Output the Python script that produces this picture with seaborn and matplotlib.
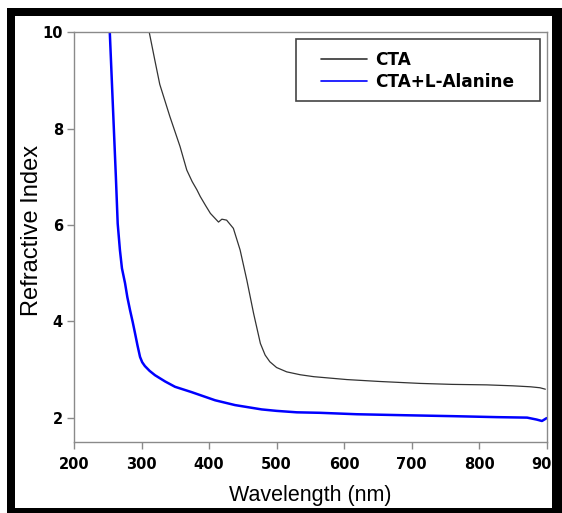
import matplotlib
matplotlib.use("Agg")
import matplotlib.pyplot as plt
from matplotlib.patches import Rectangle
import seaborn as sns
import pandas as pd

# ---- data ----
cta_wl = [310, 320, 327, 342, 357, 367, 375, 382, 387, 395, 402, 410, 414, 419,
          426, 436, 446, 456, 466, 476, 483, 490, 500, 515, 535, 555, 604, 653,
          713, 760, 811, 850, 876, 890, 898]
cta_n = [10.1, 9.4, 8.92, 8.25, 7.63, 7.14, 6.9, 6.73, 6.59, 6.4, 6.24, 6.12, 6.06, 6.12,
         6.10, 5.93, 5.48, 4.85, 4.16, 3.54, 3.3, 3.16, 3.04, 2.95, 2.89, 2.85, 2.79, 2.75,
         2.71, 2.69, 2.68, 2.66, 2.64, 2.62, 2.59]

ala_wl = [250, 253, 256, 259, 262, 264.7, 268, 271, 275.6, 279, 283, 287, 290.4, 294,
          297.8, 301, 305, 312, 320, 335, 349.6, 374, 409, 438.5, 478, 500, 530, 564,
          619, 688, 762, 826, 871, 885, 893, 900]
ala_n = [10.6, 10.0, 9.0, 8.0, 7.0, 6.03, 5.48, 5.1, 4.79, 4.5, 4.23, 3.98, 3.75, 3.5,
         3.26, 3.15, 3.07, 2.97, 2.88, 2.75, 2.64, 2.53, 2.36, 2.26, 2.17, 2.14, 2.11, 2.10,
         2.07, 2.05, 2.03, 2.01, 2.0, 1.96, 1.93, 1.99]

series_names = ["CTA", "CTA+L-Alanine"]
x_ticks = [200, 300, 400, 500, 600, 700, 800, 900]
y_ticks = [2, 4, 6, 8, 10]

df = pd.concat([
    pd.DataFrame({"Wavelength": cta_wl, "n": cta_n, "Sample": series_names[0]}),
    pd.DataFrame({"Wavelength": ala_wl, "n": ala_n, "Sample": series_names[1]}),
])

sns.set_style("white")
plt.rcParams["font.family"] = ["Liberation Sans", "DejaVu Sans"]
plt.rcParams["text.color"] = "black"
plt.rcParams["axes.labelcolor"] = "black"

W, H = 562, 513
fig = plt.figure(figsize=(W / 100, H / 100), dpi=100)
ax = fig.add_axes([74 / W, 1 - 441.7 / H, (546.7 - 74) / W, (441.7 - 32.3) / H])

sns.lineplot(data=df, x="Wavelength", y="n", hue="Sample", sort=False,
             palette={series_names[0]: "#333333", series_names[1]: "#0000ff"},
             estimator=None, ax=ax, legend=True)
lines = ax.get_lines()
lines[0].set_linewidth(0.9)
lines[1].set_linewidth(1.8)

ax.set_xlim(200, 900)
ax.set_ylim(1.5, 10)
ax.set_xticks(x_ticks)
ax.set_yticks(y_ticks)
for sp in ax.spines.values():
    sp.set_color("#8a8a8a")
    sp.set_linewidth(1.0)
ax.tick_params(axis="both", direction="out", length=5, width=1, color="#8a8a8a",
               labelcolor="black", left=True, bottom=True, top=False, right=False)
ax.tick_params(axis="x", pad=6)
ax.tick_params(axis="y", pad=3)
for lbl in ax.get_xticklabels() + ax.get_yticklabels():
    lbl.set_fontweight("bold")
    lbl.set_fontsize(10.5)
    lbl.set_family(["DejaVu Sans"])

ax.set_xlabel("Wavelength (nm)", fontsize=15.5, fontfamily=["Liberation Sans"], color="black")
ax.set_ylabel("Refractive Index", fontsize=17, fontfamily=["Liberation Sans"], color="black")
ax.xaxis.set_label_coords(0.5, -0.105)
ax.yaxis.set_label_coords(-0.066, 0.515)

h, l = ax.get_legend_handles_labels()
for hh in h:
    hh.set_linewidth(1.2)
leg = ax.legend(h, l, loc="upper left", bbox_to_anchor=(0.5219, 0.954),
                borderaxespad=0, frameon=False, labelcolor="black",
                prop={"weight": "bold", "size": 12.2, "family": ["DejaVu Sans"]},
                handlelength=2.72, handletextpad=0.47, labelspacing=0.25, borderpad=0)

# legend box (drawn separately to match the reference's padding)
ax.add_artist(Rectangle((296 / W, 1 - 100.7 / H), (540 - 296) / W, (100.7 - 39) / H,
                        transform=fig.transFigure, facecolor="white",
                        edgecolor="#444444", linewidth=1.2, clip_on=False, zorder=4))
leg.set_zorder(5)

# black frame around the picture
def band(x0, y0, x1, y1):
    fig.add_artist(Rectangle((x0 / W, 1 - y1 / H), (x1 - x0) / W, (y1 - y0) / H,
                             transform=fig.transFigure, facecolor="black",
                             edgecolor="none", zorder=10))
band(7, 8, 15, H)
band(7, 8, W, 15.5)
band(552, 8, W, H)
band(7, 508, W, H)

fig.savefig("out.png", dpi=100)
